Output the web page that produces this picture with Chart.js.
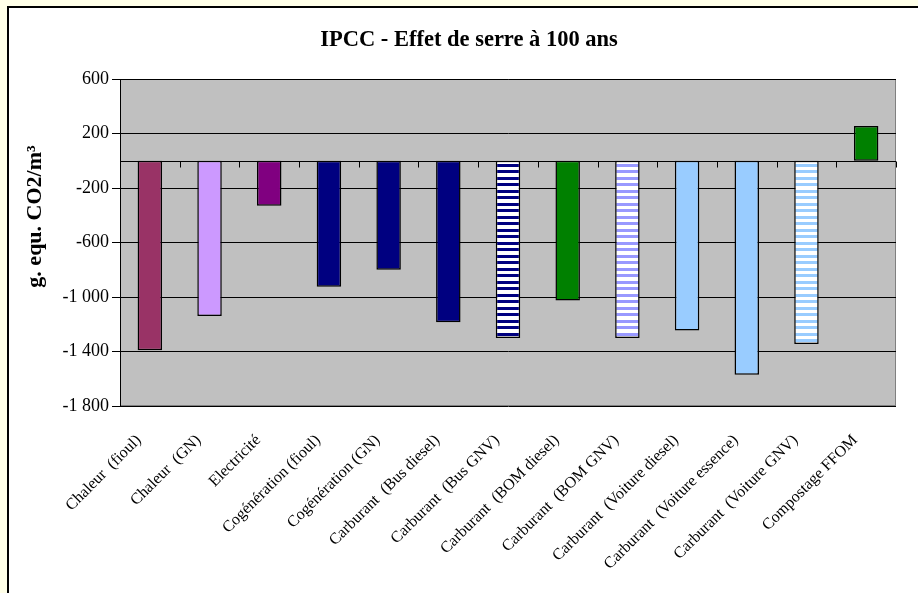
<!DOCTYPE html>
<html>
<head>
<meta charset="utf-8">
<script src="https://cdn.jsdelivr.net/npm/chart.js@4/dist/chart.umd.min.js"></script>
<style>
  html, body { margin: 0; padding: 0; background: #FFFFE8; overflow: hidden; }
  #frame { position: absolute; left: 7px; top: 6px; width: 909px; height: 585px;
           border-left: 2px solid #000; border-top: 2px solid #000; background: #fff; }
  canvas { display: block; }
</style>
</head>
<body>
<div id="frame"><canvas id="myChartGES" width="909" height="585"></canvas></div>
<script>
const chartTitle = 'IPCC - Effet de serre à 100 ans';
const yTitle = 'g. equ. CO2/m³';
const categories = [
  'Chaleur  (fioul)', 'Chaleur  (GN)', 'Electricité', 'Cogénération (fioul)',
  'Cogénération (GN)', 'Carburant  (Bus diesel)', 'Carburant  (Bus GNV)',
  'Carburant  (BOM diesel)', 'Carburant  (BOM GNV)', 'Carburant  (Voiture diesel)',
  'Carburant  (Voiture essence)', 'Carburant  (Voiture GNV)', 'Compostage FFOM'
];
const ges100 = [-1390, -1140, -330, -925, -800, -1185, -1300, -1025, -1300, -1245, -1570, -1345, 255];
const yTicks = [-1800, -1400, -1000, -600, -200, 200, 600];

const barColors = ['#993366', '#CC99FF', '#800080', '#000080', '#000080', '#000080', '#000080',
                   '#008000', '#9999FF', '#99CCFF', '#99CCFF', '#99CCFF', '#008000'];
const striped = [false, false, false, false, false, false, true, false, true, false, false, true, false];

// horizontal stripes like the excel fill pattern
function stripes (color) {
  let c = document.createElement('canvas');
  c.width = 8; c.height = 13;
  let g = c.getContext('2d');
  g.fillStyle = '#fff';
  g.fillRect(0, 0, 8, 13);
  g.fillStyle = color;
  g.fillRect(0, 0, 8, 3);
  g.fillRect(0, 6, 8, 3);
  return g.createPattern(c, 'repeat');
}

function fmt (v) {
  let s = Math.abs(v).toString().replace(/\B(?=(\d{3})+(?!\d))/g, ' ');
  return (v < 0 ? '-' : '') + s;
}

const plotArea = {
  id: 'plotArea',
  beforeDraw (chart) {
    const { ctx, chartArea: a } = chart;
    ctx.save();
    ctx.fillStyle = '#C0C0C0';
    ctx.fillRect(a.left, a.top, a.width, a.height);
    ctx.strokeStyle = '#808080';
    ctx.lineWidth = 1;
    ctx.strokeRect(a.left + 0.5, a.top + 0.5, a.width - 1, a.height - 1);
    ctx.restore();
  },
  beforeDatasetsDraw (chart) {
    const { ctx, chartArea: a, scales } = chart;
    const y0 = Math.round(scales.y.getPixelForValue(0)) + 0.5;
    ctx.save();
    ctx.strokeStyle = '#000';
    ctx.lineWidth = 1;
    ctx.beginPath();
    ctx.moveTo(a.left, y0);
    ctx.lineTo(a.right, y0);
    for (let i = 0; i <= categories.length; i++) {
      let x = Math.round(scales.x.getPixelForValue(i - 0.5)) + 0.5;
      ctx.moveTo(x, y0);
      ctx.lineTo(x, y0 + 6);
    }
    ctx.stroke();
    ctx.restore();
  },
  afterDraw (chart) {
    const { ctx, chartArea: a } = chart;
    ctx.save();
    ctx.fillStyle = '#000';
    ctx.textAlign = 'center';
    ctx.textBaseline = 'middle';
    ctx.font = 'bold 22.5px "Liberation Serif"';
    ctx.fillText(chartTitle, 460, 32);
    ctx.translate(26, (a.top + a.bottom) / 2 - 26);
    ctx.rotate(-Math.PI / 2);
    ctx.font = 'bold 22px "Liberation Serif"';
    ctx.fillText(yTitle, 0, 0);
    ctx.restore();
  }
};

var ctx = document.getElementById('myChartGES').getContext('2d');
var myChart = new Chart(ctx, {
  type: 'bar',
  data: {
    labels: categories,
    datasets: [{
      label: 'IPCC 100 ans',
      data: ges100,
      backgroundColor: barColors.map((c, i) => striped[i] ? stripes(c) : c),
      borderColor: '#000',
      borderWidth: 1.5,
      borderSkipped: false,
      barPercentage: 0.41,
      categoryPercentage: 1
    }]
  },
  options: {
    responsive: false,
    animation: false,
    layout: { padding: { left: 0, right: 22, top: 71, bottom: 0 } },
    plugins: {
      legend: { display: false },
      tooltip: { enabled: false },
      title: { display: false }
    },
    scales: {
      x: {
        grid: { display: false },
        border: { display: false },
        ticks: {
          autoSkip: false,
          maxRotation: 45,
          minRotation: 45,
          padding: 17,
          labelOffset: -11,
          color: '#000',
          font: { family: '"Liberation Serif"', size: 16 }
        },
        afterFit: (scale) => { scale.height = 187; }
      },
      y: {
        min: -1800,
        max: 600,
        afterBuildTicks: (scale) => { scale.ticks = yTicks.map(v => ({ value: v })); },
        grid: { color: '#000', lineWidth: 1, tickLength: 8, tickColor: '#000' },
        border: { display: true, color: '#000', width: 1 },
        ticks: {
          padding: 3,
          color: '#000',
          font: { family: '"Liberation Serif"', size: 18 },
          callback: (v) => fmt(v)
        },
        afterFit: (scale) => { scale.width = 111; }
      }
    }
  },
  plugins: [plotArea]
});
</script>
</body>
</html>
